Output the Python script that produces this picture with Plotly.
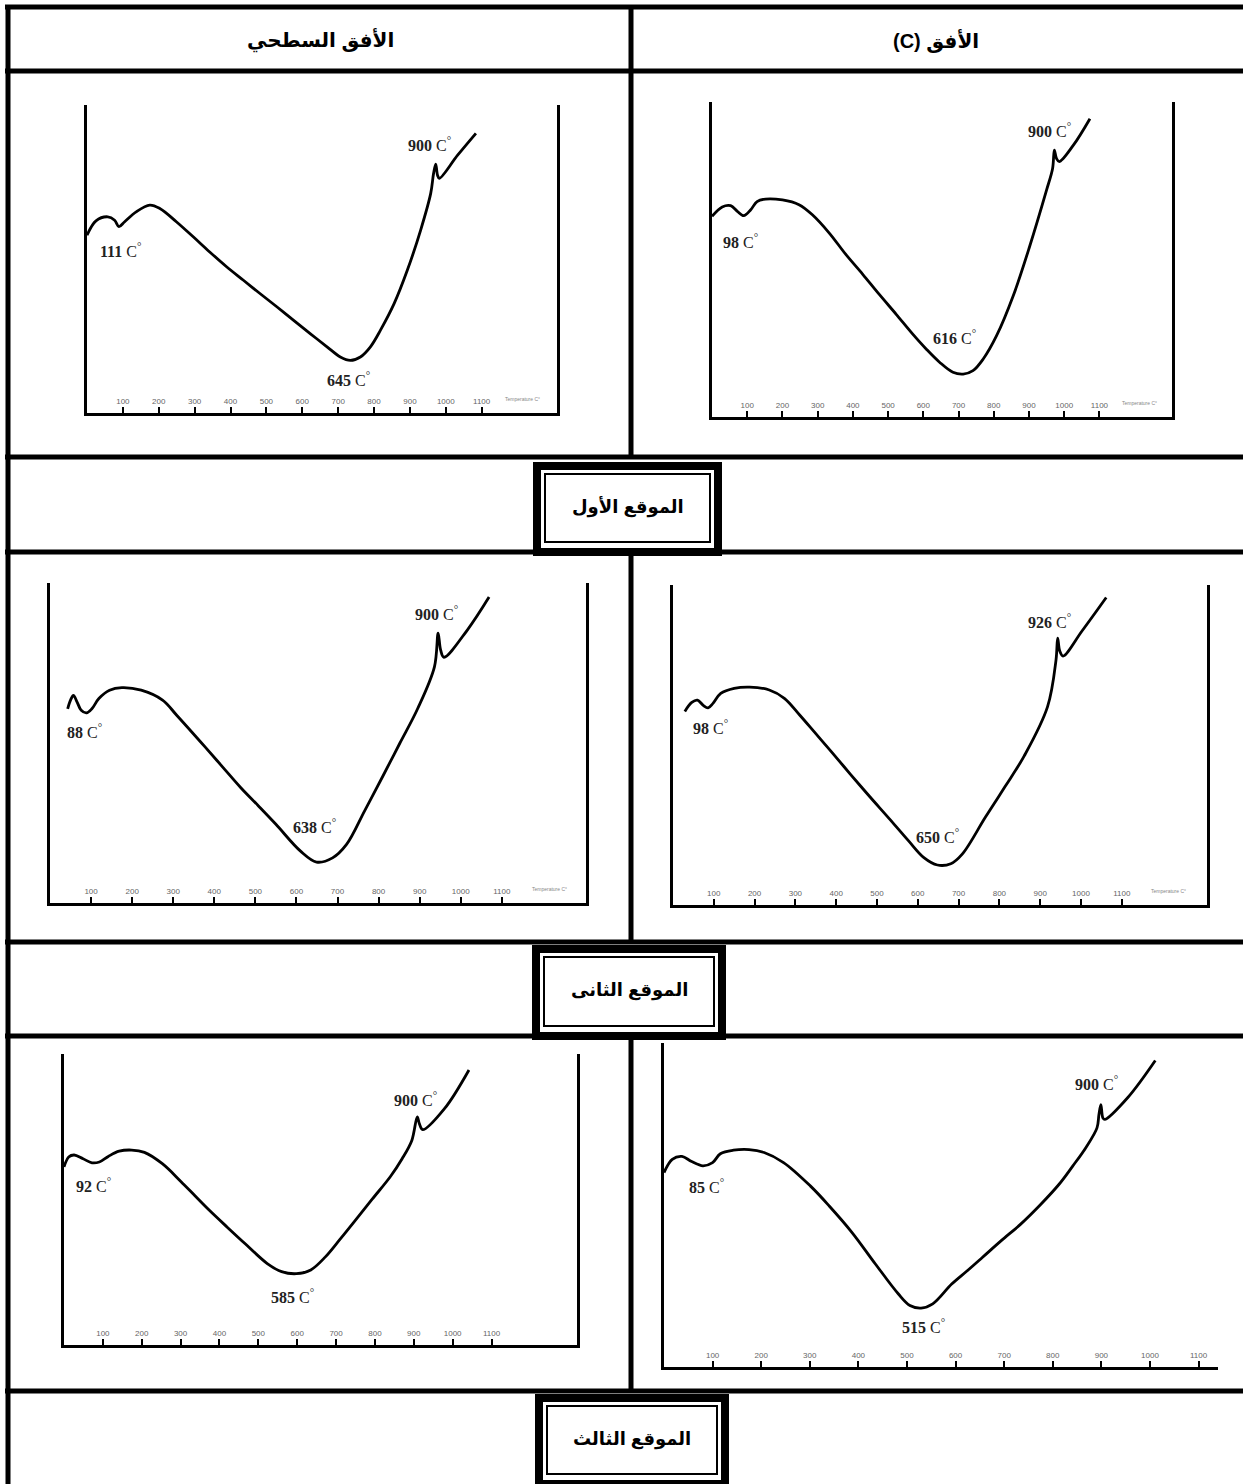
import plotly.graph_objects as go

W, H = 1243, 1484

# ---------------- data (temperature in °C, DTA signal in arbitrary units 0-100) ----------------
tick_values = [100, 200, 300, 400, 500, 600, 700, 800, 900, 1000, 1100]
tick_text = [str(v) for v in tick_values]

header_left = "الأفق السطحي"
header_right = "(C) الأفق"
site_labels = ["الموقع الأول", "الموقع الثانى", "الموقع الثالث"]

# Site 1 - surface horizon
temp_A = [0, 25, 58, 77, 89, 105, 137, 175, 203, 249, 296, 342, 389, 436, 482, 529, 576, 622, 669, 706,
          734, 762, 790, 818, 856, 893, 930, 958, 966, 972, 977, 982, 1033, 1084]
sig_A = [57.7, 62.4, 63.7, 62.6, 60.5, 62.1, 65.3, 67.5, 66.4, 62.1, 57.2, 52.3, 47.5, 43.1, 38.8, 34.5,
         30.1, 25.8, 21.5, 18.2, 17.1, 18.2, 21.5, 26.9, 35.5, 46.4, 59.4, 71.3, 77.8, 80.8, 77.2, 76.2,
         83.7, 90.8]
peaks_A = ["111", "645", "900"]
peakT_A = [92, 730, 954]
peakY_A = [52.9, 11.2, 87.5]

# Site 1 - C horizon
temp_B = [0, 29, 53, 72, 90, 110, 128, 152, 200, 247, 285, 333, 380, 428, 475, 523, 570, 608, 646, 684,
          713, 741, 770, 808, 855, 902, 950, 967, 972, 978, 986, 1026, 1073]
sig_B = [63.7, 66.7, 67.1, 65.3, 63.9, 65.8, 68.4, 69.2, 68.9, 67.4, 64.2, 58.4, 51.6, 45.3, 38.9, 32.6,
         26.3, 21.6, 17.4, 14.2, 13.6, 14.7, 18.4, 25.8, 38.4, 54.2, 72.1, 78.9, 84.7, 82.1, 81.1, 86.3,
         94.7]
peaks_B = ["98", "616", "900"]
peakT_B = [81, 689, 959]
peakY_B = [55.8, 25.3, 91.1]

# Site 2 - surface horizon
temp_C = [43, 50, 57, 66, 76, 89, 102, 119, 145, 175, 222, 274, 309, 378, 421, 464, 507, 550, 610, 649,
          688, 722, 766, 809, 852, 895, 936, 945, 951, 959, 1016, 1069]
sig_C = [60.7, 63.4, 64.9, 62.8, 60.2, 59.4, 60.7, 63.9, 66.5, 67.3, 66.5, 63.4, 58.6, 48.7, 42.4, 36.1,
         30.4, 24.6, 16.2, 12.8, 14.1, 18.3, 28.8, 39.3, 50.0, 60.7, 73.8, 84.3, 79.1, 76.8, 85.3, 95.6]
peaks_C = ["88", "638", "900"]
peakT_C = [84, 645, 942]
peakY_C = [53.9, 24.1, 90.6]

# Site 2 - C horizon
temp_D = [29, 46, 60, 74, 86, 98, 117, 150, 188, 236, 273, 311, 349, 387, 434, 482, 530, 577, 615, 648,
          681, 709, 766, 814, 861, 918, 939, 943, 948, 956, 1003, 1062]
sig_D = [60.5, 63.3, 64.0, 62.4, 61.6, 63.0, 66.1, 67.7, 68.1, 67.2, 64.6, 59.3, 53.7, 48.1, 41.0, 33.9,
         27.0, 20.1, 14.8, 12.5, 12.9, 15.9, 27.5, 37.0, 46.6, 61.9, 76.7, 83.4, 79.4, 77.8, 85.7, 96.1]
peaks_D = ["98", "650", "926"]
peakT_D = [93, 648, 923]
peakY_D = [55.6, 21.7, 88.9]

# Site 3 - surface horizon
temp_E = [0, 12, 26, 49, 72, 91, 114, 142, 174, 207, 253, 300, 337, 374, 420, 467, 523, 560, 598, 635,
          672, 710, 747, 793, 840, 870, 895, 909, 914, 923, 979, 1042]
sig_E = [61.2, 64.6, 65.3, 64.0, 62.6, 62.9, 64.8, 66.6, 67.0, 66.2, 62.3, 56.3, 51.3, 46.3, 40.5, 34.7,
         28.0, 25.2, 24.5, 25.8, 30.2, 36.3, 42.4, 50.1, 57.9, 64.0, 70.3, 78.4, 76.2, 74.0, 81.2, 94.5]
peaks_E = ["92", "585", "900"]
peakT_E = [77, 588, 905]
peakY_E = [55.1, 16.9, 84.5]

# Site 3 - C horizon
temp_F = [0, 17, 37, 57, 80, 100, 116, 143, 175, 206, 246, 301, 340, 387, 435, 482, 506, 529, 553, 592,
          624, 655, 694, 734, 774, 813, 841, 868, 891, 895, 899, 903, 907, 954, 1011]
sig_F = [60.0, 64.1, 65.0, 63.4, 62.1, 63.1, 65.8, 66.9, 67.1, 66.2, 63.1, 55.9, 49.7, 41.5, 31.8, 22.6,
         19.0, 18.2, 19.5, 25.6, 29.7, 33.8, 39.0, 44.1, 50.0, 56.4, 62.0, 67.7, 73.8, 77.9, 81.0, 76.9,
         76.4, 83.1, 94.6]
peaks_F = ["85", "515", "900"]
peakT_F = [88, 533, 891]
peakY_F = [55.9, 12.8, 87.7]

# ---------------- layout helpers ----------------
def fx(px):
    return px / W


def fy(py):
    return 1 - py / H


# frame = (left px, right px, top px, axis px)
panels = [
    dict(T=temp_A, Y=sig_A, pk=peaks_A, pkT=peakT_A, pkY=peakY_A, frame=(87, 557, 105, 413), xmax=1310, right=True, ttxt=True),
    dict(T=temp_B, Y=sig_B, pk=peaks_B, pkT=peakT_B, pkY=peakY_B, frame=(712, 1172, 102, 417), xmax=1306, right=True, ttxt=True),
    dict(T=temp_C, Y=sig_C, pk=peaks_C, pkT=peakT_C, pkY=peakY_C, frame=(50, 586, 583, 903), xmax=1305, right=True, ttxt=True),
    dict(T=temp_D, Y=sig_D, pk=peaks_D, pkT=peakT_D, pkY=peakY_D, frame=(673, 1207, 585, 905), xmax=1309, right=True, ttxt=True),
    dict(T=temp_E, Y=sig_E, pk=peaks_E, pkT=peakT_E, pkY=peakY_E, frame=(64, 577, 1054, 1345), xmax=1320, right=True, ttxt=False),
    dict(T=temp_F, Y=sig_F, pk=peaks_F, pkT=peakT_F, pkY=peakY_F, frame=(664, 1218, 1043, 1367), xmax=1140, right=False, ttxt=False),
]

fig = go.Figure()
annotations = []
shapes = []
axes_layout = {}

for i, p in enumerate(panels, start=1):
    sfx = "" if i == 1 else str(i)
    xa, ya = "x" + sfx, "y" + sfx
    l, r, t, b = p["frame"]
    fig.add_trace(go.Scatter(
        x=p["T"], y=p["Y"], mode="lines", xaxis=xa, yaxis=ya,
        line=dict(color="black", width=2.8, shape="spline", smoothing=1.0),
        showlegend=False, hoverinfo="skip"))
    axes_layout["xaxis" + sfx] = dict(
        domain=[fx(l), fx(r)], anchor=ya, range=[0, p["xmax"]],
        showline=True, linecolor="black", linewidth=3, mirror=False,
        ticks="inside", ticklen=6, tickwidth=2, tickcolor="black",
        tickvals=tick_values, ticktext=tick_text, ticklabelposition="inside",
        tickfont=dict(family="Liberation Sans", size=8, color="#666"),
        showgrid=False, zeroline=False, fixedrange=True)
    axes_layout["yaxis" + sfx] = dict(
        domain=[fy(b), fy(t)], anchor=xa, range=[0, 100],
        showline=True, linecolor="black", linewidth=3, mirror=p["right"],
        showticklabels=False, ticks="", showgrid=False, zeroline=False, fixedrange=True)
    for lab, tx, ty in zip(p["pk"], p["pkT"], p["pkY"]):
        annotations.append(dict(
            x=tx, y=ty, xref=xa, yref=ya, showarrow=False, xanchor="center", yanchor="middle",
            text="<b>" + lab + "</b> C<sup>°</sup>",
            font=dict(family="Liberation Serif", size=16, color="#222")))
    if p["ttxt"]:
        annotations.append(dict(
            x=1215, y=4.5, xref=xa, yref=ya, showarrow=False, xanchor="center", yanchor="middle",
            text="Temperature C°",
            font=dict(family="Liberation Sans", size=5, color="#888")))

# ---------------- table grid ----------------
LW = 5


def hline(y, x0=5, x1=W):
    shapes.append(dict(type="line", xref="paper", yref="paper", x0=fx(x0), x1=fx(x1), y0=fy(y), y1=fy(y),
                       line=dict(color="black", width=LW)))


def vline(x, y0, y1):
    shapes.append(dict(type="line", xref="paper", yref="paper", x0=fx(x), x1=fx(x), y0=fy(y0), y1=fy(y1),
                       line=dict(color="black", width=LW)))


for yy in [7, 71, 457, 552, 942, 1036, 1391]:
    hline(yy)
vline(8, 5, H)
vline(631, 7, 457)
vline(631, 552, 942)
vline(631, 1036, 1391)

# header texts
for cx, txt in [(320, header_left), (936, header_right)]:
    annotations.append(dict(x=fx(cx), y=fy(40), xref="paper", yref="paper", showarrow=False,
                            xanchor="center", yanchor="middle", text="<b>" + txt + "</b>",
                            font=dict(family="Liberation Sans, DejaVu Sans", size=20, color="black")))

# site label boxes (double border)
boxes = [(533, 722, 462, 552), (532, 726, 945, 1036), (535, 729, 1394, 1484)]
for (bx0, bx1, by0, by1), lab in zip(boxes, site_labels):
    shapes.append(dict(type="rect", xref="paper", yref="paper", x0=fx(bx0 + 4), x1=fx(bx1 - 4), y0=fy(by1), y1=fy(by0 + 4),
                       line=dict(color="black", width=8), fillcolor="white"))
    shapes.append(dict(type="rect", xref="paper", yref="paper", x0=fx(bx0 + 12), x1=fx(bx1 - 12), y0=fy(by1 - 10), y1=fy(by0 + 12),
                       line=dict(color="black", width=2)))
    annotations.append(dict(x=fx((bx0 + bx1) / 2), y=fy((by0 + by1) / 2), xref="paper", yref="paper", showarrow=False,
                            xanchor="center", yanchor="middle", text="<b>" + lab + "</b>",
                            font=dict(family="Liberation Sans, DejaVu Sans", size=18, color="black")))

fig.update_layout(
    width=W, height=H, margin=dict(l=0, r=0, t=0, b=0),
    paper_bgcolor="white", plot_bgcolor="rgba(0,0,0,0)",
    showlegend=False, shapes=shapes, annotations=annotations, **axes_layout)

fig.write_html("out.html", config={"displayModeBar": False, "staticPlot": True},
               post_script="document.body.style.margin='0';document.body.style.overflow='hidden';")
